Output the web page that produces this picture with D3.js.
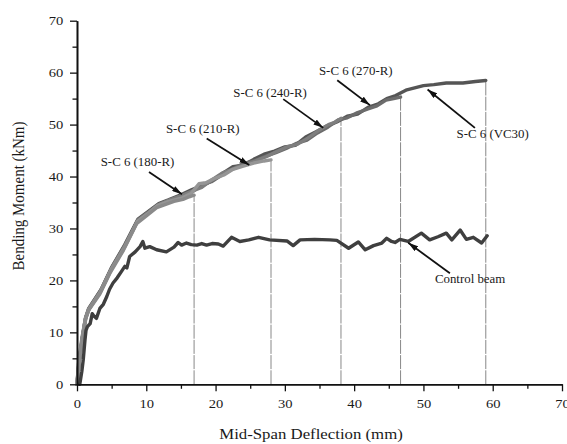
<!DOCTYPE html>
<html>
<head>
<meta charset="utf-8">
<script src="https://cdn.jsdelivr.net/npm/d3@7"></script>
<style>
  html, body { margin: 0; padding: 0; background: #fff; }
  svg { display: block; }
  text { font-family: "Liberation Serif", "Times New Roman", serif; fill: #1a1a1a; }
</style>
</head>
<body>
<svg id="chart" width="567" height="444"></svg>
<script>
// ---------------- data ----------------
const xTicks = [0, 10, 20, 30, 40, 50, 60, 70];
const yTicks = [0, 10, 20, 30, 40, 50, 60, 70];
const minorTicks = [5, 15, 25, 35, 45, 55, 65];

const xTitle = "Mid-Span Deflection (mm)";
const yTitle = "Bending Moment (kNm)";

const sc180 = [[0,0],[0.2,3.2],[0.7,8.3],[1.15,12.2],[1.6,14.1],[3.3,17.4],[4.8,21.5],[6.7,25.8],[8.6,30.9],[10.1,32.5],[11.5,34.0],[12.9,34.7],[14.0,35.2],[15.3,35.6],[16.2,36.1],[16.9,36.4]];

const sc210 = [[0,0],[0.25,3.6],[0.75,8.7],[1.2,12.5],[1.7,14.4],[3.4,17.8],[4.9,22.0],[6.8,26.2],[8.7,31.3],[10.2,32.8],[11.6,34.4],[13.0,35.1],[15.2,35.9],[16.5,36.8],[17.6,38.6],[18.6,38.8],[19.8,39.6],[21.2,40.3],[22.5,41.4],[24.0,42.0],[25.5,42.6],[27.0,43.0],[28.0,43.2]];

const sc240 = [[0,0.3],[0.3,4.2],[0.8,9.0],[1.3,12.8],[1.8,14.6],[3.5,18.1],[5.0,22.3],[6.9,26.6],[8.8,31.6],[10.3,33.1],[11.8,34.6],[13.2,35.4],[15.0,36.3],[16.6,37.2],[18.0,37.9],[19.5,39.4],[21.0,40.7],[22.6,41.5],[24.2,42.3],[25.8,43.0],[27.3,43.8],[28.8,44.8],[30.3,45.7],[31.8,46.2],[33.3,47.4],[34.8,48.8],[36.3,50.0],[37.3,50.5],[38.1,51.2]];

const sc270 = [[0,0],[0.2,3.8],[0.7,8.8],[1.2,12.6],[1.65,14.5],[3.4,18.0],[4.9,22.2],[6.8,26.5],[8.7,31.4],[10.2,33.0],[11.7,34.5],[13.1,35.3],[14.9,36.2],[16.5,36.9],[18.0,38.4],[19.4,39.0],[20.9,40.3],[22.4,41.4],[24.0,42.5],[25.6,43.0],[27.2,43.9],[28.7,44.6],[30.2,45.4],[31.7,46.4],[33.2,47.0],[34.7,48.4],[36.2,49.5],[37.7,50.9],[39.0,51.3],[40.5,52.3],[42.0,53.0],[43.3,53.6],[44.6,54.7],[45.7,55.0],[46.7,55.3]];

const scVC30 = [[0,0],[0.3,4.0],[0.8,9.2],[1.25,12.9],[1.75,14.7],[3.5,18.3],[5.0,22.5],[6.9,26.9],[8.8,31.8],[10.3,33.3],[11.8,34.8],[13.2,35.5],[15.0,36.5],[16.6,37.5],[18.0,38.2],[19.5,39.2],[21.0,40.6],[22.5,41.9],[24.0,42.2],[25.5,43.3],[27.0,44.3],[28.5,44.9],[30.0,45.7],[31.5,46.0],[33.0,47.6],[34.5,48.6],[36.0,49.7],[37.5,50.5],[39.0,51.6],[40.5,52.0],[42.0,53.3],[43.5,54.0],[44.7,55.0],[46.0,55.6],[47.6,56.7],[50.0,57.5],[51.5,57.7],[53.3,58.0],[55.7,58.0],[57.5,58.3],[59.0,58.5]];

const control = [[0.4,0],[0.7,2.5],[0.9,4.7],[1.15,8.5],[1.3,10.4],[1.5,11.1],[1.9,11.7],[2.2,13.6],[2.4,13.2],[2.8,12.7],[3.3,14.6],[3.8,15.4],[4.3,16.9],[4.7,18.3],[5.2,19.5],[5.8,20.5],[6.4,21.7],[6.9,22.7],[7.2,22.4],[7.6,24.6],[8.4,25.5],[9.1,26.5],[9.5,27.5],[9.8,26.2],[10.5,26.5],[11.5,25.9],[12.9,25.5],[14.0,26.4],[14.6,27.3],[15.1,26.8],[15.8,27.2],[16.5,26.9],[17.3,26.8],[18.0,27.1],[18.7,26.8],[19.5,27.1],[20.4,27.0],[21.1,26.6],[22.3,28.3],[23.5,27.5],[24.8,27.8],[26.2,28.3],[27.8,27.8],[30.3,27.6],[31.2,26.7],[32.2,27.8],[34.3,27.9],[36.5,27.8],[37.5,27.7],[39.2,26.2],[40.6,27.4],[41.6,25.9],[42.8,26.7],[44.0,27.2],[44.7,28.1],[45.4,27.5],[45.9,27.3],[46.6,27.9],[47.8,27.5],[49.7,29.1],[50.9,27.8],[52.1,28.4],[53.3,29.1],[54.1,27.8],[55.3,29.7],[56.2,27.9],[57.2,28.3],[58.4,27.2],[59.2,28.6]];

// drawn back-to-front
const seriesNames = ["S-C 6 (VC30)", "S-C 6 (270-R)", "S-C 6 (240-R)", "S-C 6 (210-R)", "S-C 6 (180-R)", "Control beam"];
const seriesData = [scVC30, sc270, sc240, sc210, sc180, control];
const seriesColors = ["#555555", "#6c6c6c", "#7e7e7e", "#959595", "#8a8a8a", "#3f3f3f"];

// annotation labels and arrows, in data units
const annLabels = ["S-C 6 (180-R)", "S-C 6 (210-R)", "S-C 6 (240-R)", "S-C 6 (270-R)", "S-C 6 (VC30)", "Control beam"];
const annTextPos = [[3.42,42.0],[12.84,48.35],[22.55,55.28],[34.92,59.5],[54.79,47.45],[51.66,19.43]];
const annFrom = [[10.39,40.85],[18.72,47.33],[29.77,54.9],[37.56,58.55],[57.43,49.37],[53.82,21.36]];
const annTo = [[15.15,36.6],[24.86,42.2],[35.54,49.37],[42.28,53.74],[50.6,56.76],[47.81,27.25]];

// ---------------- chart ----------------
const W = 567, H = 444;
const margin = {left: 77, right: 5, top: 20.7, bottom: 59.7};
const SX = 1.12; // horizontal stretch of the text in the reference

const svg = d3.select("#chart");
const x = d3.scaleLinear().domain([0, 70]).range([margin.left, W - margin.right]);
const y = d3.scaleLinear().domain([0, 70]).range([H - margin.bottom, margin.top]);

// markers
svg.append("defs").append("marker")
  .attr("id", "ah").attr("viewBox", "0 0 10 6").attr("refX", 10).attr("refY", 3)
  .attr("markerWidth", 10).attr("markerHeight", 6).attr("markerUnits", "userSpaceOnUse")
  .attr("orient", "auto")
  .append("path").attr("d", "M0,0 L10,3 L0,6 Z").attr("fill", "#111");

// vertical reference lines at each S-C series end
const scSeries = [sc180, sc210, sc240, sc270, scVC30];
svg.append("g").selectAll("line").data(scSeries).join("line")
  .attr("x1", d => x(d[d.length-1][0])).attr("x2", d => x(d[d.length-1][0]))
  .attr("y1", y(0)).attr("y2", d => y(d[d.length-1][1]))
  .attr("stroke", "#888").attr("stroke-width", 1).attr("stroke-dasharray", "14,1.2");

// curves
const line = d3.line().x(d => x(d[0])).y(d => y(d[1]));
svg.append("g").selectAll("path").data(seriesData).join("path")
  .attr("d", d => line(d))
  .attr("fill", "none")
  .attr("stroke", (d, i) => seriesColors[i])
  .attr("stroke-width", 3.4)
  .attr("stroke-linejoin", "round")
  .attr("stroke-linecap", "round");

// axes
const yAxis = svg.append("g").attr("transform", `translate(${margin.left},0)`)
  .call(d3.axisLeft(y).tickValues(yTicks).tickSize(7).tickSizeOuter(0).tickPadding(5.2).tickFormat(d3.format("d")));
const yMinor = svg.append("g").attr("transform", `translate(${margin.left},0)`)
  .call(d3.axisLeft(y).tickValues(minorTicks).tickSize(4.5).tickSizeOuter(0).tickFormat(""));
const xAxis = svg.append("g").attr("transform", `translate(0,${y(0)})`)
  .call(d3.axisBottom(x).tickValues(xTicks).tickSize(7).tickSizeOuter(0).tickPadding(7.7).tickFormat(d3.format("d")));
const xMinor = svg.append("g").attr("transform", `translate(0,${y(0)})`)
  .call(d3.axisBottom(x).tickValues(minorTicks).tickSize(4.5).tickSizeOuter(0).tickFormat(""));

[yAxis, yMinor, xAxis, xMinor].forEach(g => {
  g.select(".domain").attr("stroke", "#111").attr("stroke-width", 1.6);
  g.selectAll(".tick line").attr("stroke", "#111").attr("stroke-width", 1.3);
  g.selectAll("text").attr("font-family", "Liberation Serif, Times New Roman, serif")
    .attr("font-size", 13).attr("fill", "#1a1a1a");
});
yAxis.selectAll(".tick text").attr("transform", `scale(${SX},1)`);
xAxis.selectAll(".tick text").attr("transform", `scale(${SX},1)`);

// axis titles
svg.append("text")
  .attr("transform", `translate(${311},${438.5}) scale(${SX},1)`)
  .attr("text-anchor", "middle").attr("font-size", 15).text(xTitle);
svg.append("text")
  .attr("transform", `translate(${24},${196}) scale(${SX},1) rotate(-90)`)
  .attr("text-anchor", "middle").attr("font-size", 15).text(yTitle);

// annotations
const ann = svg.append("g");
ann.selectAll("line").data(annLabels).join("line")
  .attr("x1", (d, i) => x(annFrom[i][0])).attr("y1", (d, i) => y(annFrom[i][1]))
  .attr("x2", (d, i) => x(annTo[i][0])).attr("y2", (d, i) => y(annTo[i][1]))
  .attr("stroke", "#111").attr("stroke-width", 1.8)
  .attr("marker-end", "url(#ah)");
ann.selectAll("text").data(annLabels).join("text")
  .attr("transform", (d, i) => `translate(${x(annTextPos[i][0])},${y(annTextPos[i][1])}) scale(${SX},1)`)
  .attr("font-size", 11.5)
  .text(d => d);
</script>
</body>
</html>
